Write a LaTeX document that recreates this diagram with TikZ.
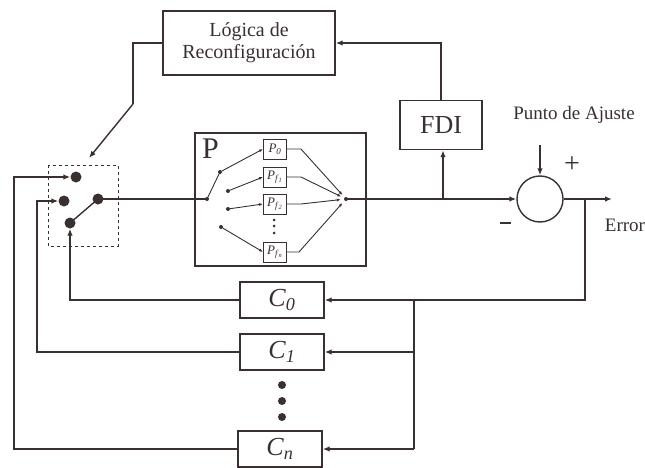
\documentclass[tikz,border=0pt]{standalone}
\usepackage{fontspec}
\setmainfont{Liberation Serif}
\usepackage{tikz}
\usetikzlibrary{arrows.meta,positioning,calc}
\definecolor{inkgray}{RGB}{58,48,48}

\tikzset{
  blk/.style={draw=inkgray, line width=1.4pt, rectangle, inner sep=0pt},
  minib/.style={draw=inkgray, line width=0.9pt, rectangle, minimum width=23pt, minimum height=20pt, inner sep=0pt, font=\fontsize{13}{14}\selectfont},
  bigdot/.style={circle, fill=inkgray, inner sep=0pt, minimum size=11pt},
  tinydot/.style={circle, fill=inkgray, inner sep=0pt, minimum size=4pt},
  wire/.style={draw=inkgray, line width=1.4pt},
  thinwire/.style={draw=inkgray, line width=0.9pt},
  arr/.style={wire, -{Latex[length=7pt,width=5.5pt]}},
  smallarr/.style={thinwire, -{Latex[length=4pt,width=3pt]}},
}

\newcommand{\Csub}[1]{\textit{C}\textsubscript{\textit{#1}}}
\newcommand{\Psub}[1]{\textit{P}\textsubscript{\textit{#1}}}

\begin{document}
\begin{tikzpicture}[x=1pt, y=-1pt, text=inkgray]
    \useasboundingbox (0,0) rectangle (645,468);
    % blocks
    \node[blk, minimum width=172pt, minimum height=64pt, align=center,
          font=\fontsize{20}{22}\selectfont] (logic) at (249,43) {Lógica de\\Reconfiguración};
    \node[blk, minimum width=82pt, minimum height=49pt,
          font=\fontsize{26}{28}\selectfont] (fdi) at (441,125) {FDI};
    \node[blk, minimum width=171pt, minimum height=133pt] (pbox) at (280.5,199.5) {};
    \node[font=\fontsize{30}{32}\selectfont, anchor=north west, inner sep=0pt] (plabel) at (202,139) {P};
    \node[draw=inkgray, line width=1.4pt, circle, minimum size=46pt, inner sep=0pt] (sum) at (540,199) {};
    % controllers
    \node[blk, minimum width=84pt, minimum height=36pt, font=\fontsize{26}{28}\selectfont] (c0) at (282,300) {\Csub{0}};
    \node[blk, minimum width=84pt, minimum height=36pt, font=\fontsize{26}{28}\selectfont] (c1) at (282,352) {\Csub{1}};
    \node[blk, minimum width=84pt, minimum height=36pt, font=\fontsize{26}{28}\selectfont] (cn) at (280,449) {\Csub{n}};
    \foreach \yy in {385,401,417} \fill[inkgray] (282,\yy) circle (4pt);
    % switch
    \draw[inkgray, line width=0.9pt, dashed] (48,165) rectangle (118,246);
    \node[bigdot] (swa) at (76,177) {};
    \node[bigdot] (swb) at (64,201) {};
    \node[bigdot] (swc) at (98,199) {};
    \node[bigdot] (swd) at (70,223) {};
    \draw[wire] (swc.center) -- (swd.center);
    % plant bank inside P
    \node[tinydot] (pin) at (207,199) {};
    \node[tinydot] (s0) at (220,172) {};
    \node[tinydot] (s1) at (228,191) {};
    \node[tinydot] (s2) at (228,209) {};
    \node[tinydot] (s3) at (221,227) {};
    \node[tinydot] (pout) at (346,199) {};
    \node[minib] (p0) at (275,149) {\Psub{0}};
    \node[minib] (pf1) at (275,177) {\textit{P}\textsubscript{\textit{f}\textsubscript{\textit{1}}}};
    \node[minib] (pf2) at (275,204) {\textit{P}\textsubscript{\textit{f}\textsubscript{\textit{2}}}};
    \node[minib] (pfn) at (275,252) {\textit{P}\textsubscript{\textit{f}\textsubscript{\textit{n}}}};
    \foreach \yy in {220,226,233} \fill[inkgray] (274,\yy) circle (1.5pt);
    \draw[thinwire] (pin.center) -- (s0.center);
    \draw[smallarr] (s0) -- (p0.west);
    \draw[smallarr] (s1) -- (pf1.west);
    \draw[smallarr] (s2) -- (pf2.west);
    \draw[smallarr] (s3) -- (pfn.west);
    \draw[smallarr, shorten >=3pt] (p0.east) -- ++(14,0) -- (pout);
    \draw[smallarr, shorten >=3pt] (pf1.east) -- ++(14,0) -- (pout);
    \draw[smallarr, shorten >=3pt] (pf2.east) -- ++(14,0) -- (pout);
    \draw[smallarr, shorten >=3pt] (pfn.east) -- ++(12,0) -- (pout);
    % main path
    \draw[wire] (swc.center) -- (pin.center);
    \draw[arr] (pout.center) -- (sum.west);
    \coordinate (tapfdi) at (443,199);
    \draw[arr] (tapfdi) -- (fdi.south -| tapfdi);
    \draw[arr] (fdi.north) |- (logic.east);
    \coordinate (lbend) at (133,43);
    \coordinate (ldown) at (133,104);
    \coordinate (ltip) at (89,158);
    \draw[wire] (logic.west) -- (lbend) -- (ldown);
    \draw[arr] (ldown) -- (ltip);
    % summing junction
    \node[font=\fontsize{19}{21}\selectfont] (setp) at (574,115) {Punto de Ajuste};
    \coordinate (setin) at (540,145);
    \draw[arr] (setin) -- (sum.north);
    \node[font=\fontsize{28}{30}\selectfont] (plus) at (572,165) {+};
    \draw[wire, line width=2.2pt] (500,223) -- (511,223);
    \coordinate (errout) at (612,199);
    \draw[arr] (sum.east) -- (errout);
    \node[font=\fontsize{19}{21}\selectfont] (errlbl) at (625,225) {Error};
    % feedback to controllers
    \coordinate (tapfb) at (585,199);
    \coordinate (busx) at (414,300);
    \draw[arr] (tapfb) |- (c0.east);
    \draw[wire] (busx) -- (busx |- cn.east);
    \draw[arr] (busx |- c1.east) -- (c1.east);
    \draw[arr] (busx |- cn.east) -- (cn.east);
    % controllers back to switch
    \draw[arr] (c0.west) -| (swd.south);
    \draw[arr] (c1.west) -| (37,201) -- (swb.west);
    \draw[arr] (cn.west) -| (14,177) -- (swa.west);
\end{tikzpicture}
\end{document}
